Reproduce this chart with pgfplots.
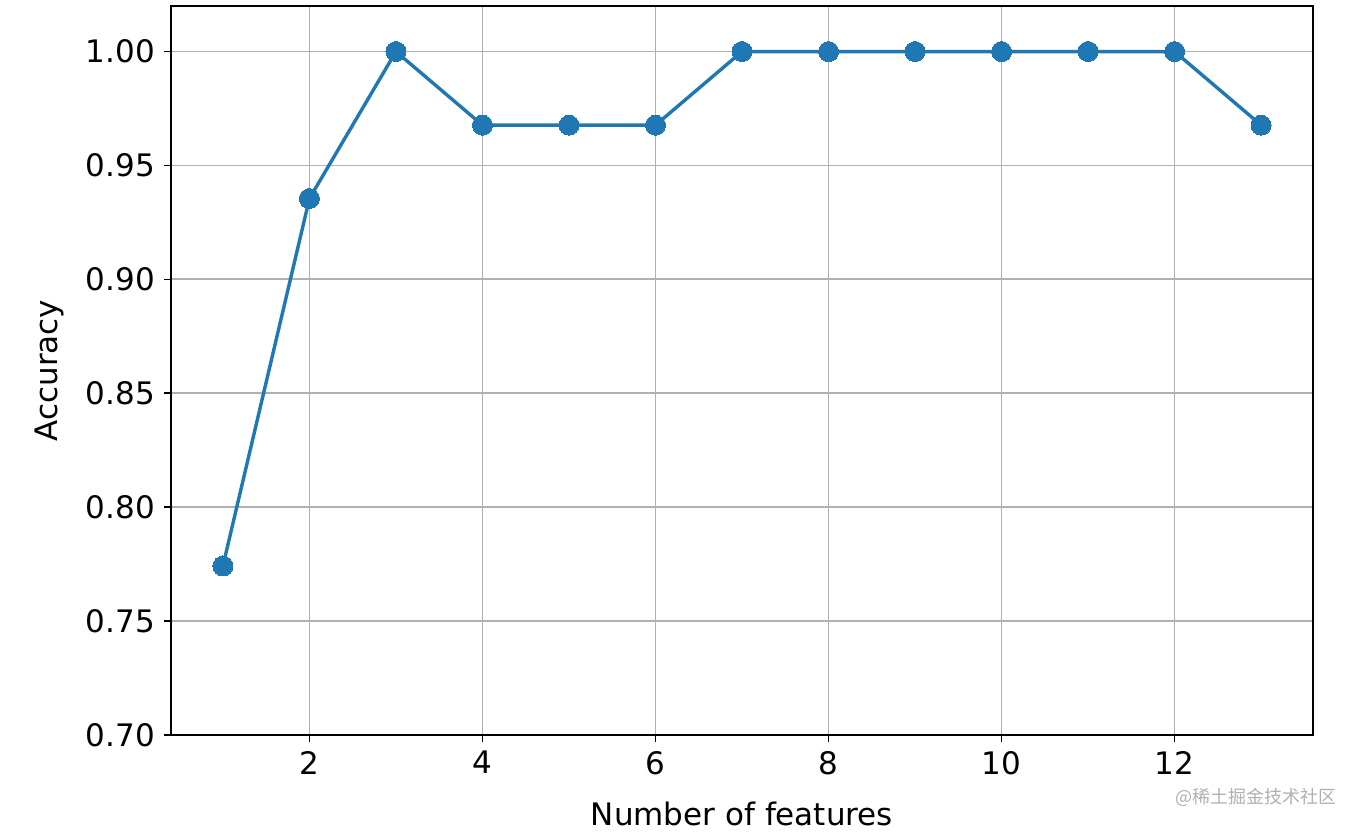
\documentclass[border=0pt]{standalone}
\usepackage{pgfplots}
\pgfplotsset{compat=1.18}
\usepackage{fontspec}
\setmainfont{DejaVu Sans}
\newfontfamily\cjk{Noto Sans CJK SC}
\definecolor{tabblue}{HTML}{1F77B4}
\definecolor{gridgray}{HTML}{B0B0B0}
\begin{document}
\begin{tikzpicture}
\path[use as bounding box] (-85.5pt,-48.5pt) rectangle (593.5pt,367.5pt);
\begin{axis}[
  scale only axis,
  width=571pt, height=364.5pt,
  xmin=0.4, xmax=13.6,
  ymin=0.70, ymax=1.02,
  xtick={2,4,6,8,10,12},
  ytick={0.70,0.75,0.80,0.85,0.90,0.95,1.00},
  yticklabel style={/pgf/number format/fixed,/pgf/number format/fixed zerofill,/pgf/number format/precision=2,xshift=-1pt},
  /pgf/number format/assume math mode=true,
  tick align=outside,
  xtick pos=bottom, ytick pos=left,
  major tick length=3.5pt,
  tick style={black, line width=0.8pt},
  axis line style={black, line width=1pt},
  grid=major,
  major grid style={gridgray, line width=0.9pt},
  ticklabel style={font=\fontsize{15.5}{18}\selectfont},
  xticklabel style={yshift=-1pt},
  xlabel={Number of features},
  ylabel={Accuracy},
  label style={font=\fontsize{15.5}{18}\selectfont},
  xlabel style={yshift=-7pt},
  ylabel style={yshift=4pt},
  clip=false,
]
\addplot[tabblue, line width=1.7pt, mark=*, mark size=5pt, mark options={fill=tabblue, draw=tabblue, line width=0pt}] coordinates {
(1,0.7742) (2,0.9355) (3,1.0) (4,0.9677) (5,0.9677) (6,0.9677) (7,1.0)
(8,1.0) (9,1.0) (10,1.0) (11,1.0) (12,1.0) (13,0.9677)
};
\end{axis}
\node[anchor=base west, text=gridgray, font=\cjk\fontsize{9}{10}\selectfont, inner sep=0pt] at (502pt,-34pt) {@稀土掘金技术社区};
\end{tikzpicture}
\end{document}
